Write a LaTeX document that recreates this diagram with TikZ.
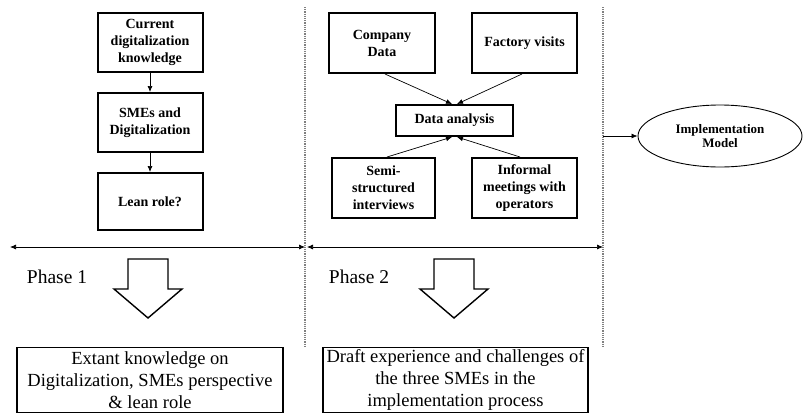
\documentclass[tikz,border=0pt]{standalone}
\usepackage{fontspec}
\setmainfont{Liberation Serif}
\usetikzlibrary{arrows.meta,shapes.geometric}

\begin{document}
\begin{tikzpicture}[x=1pt,y=-1pt,line width=0.8pt,
  box/.style={draw,line width=2pt,align=center,inner sep=2pt,
    font=\bfseries\fontsize{14}{17}\selectfont},
  outbox/.style={draw,line width=1.8pt,align=center,inner sep=2pt,
    font=\fontsize{18.5}{21.7}\selectfont},
  link/.style={-{Latex[length=6pt,width=5pt]},line width=0.7pt},
  span/.style={{Latex[length=6pt,width=5pt]}-{Latex[length=6pt,width=5pt]},line width=0.7pt},
  divider/.style={gray,densely dotted,line width=1.2pt},
  bigarrow/.style={draw,line width=1.4pt,line join=miter,fill=white}]
  \useasboundingbox (0,0) rectangle (804,413);

  % phase 1: literature
  \node[box,minimum width=105pt,minimum height=59pt] (cur) at (150,42.5)
    {Current\\digitalization\\knowledge};
  \node[box,minimum width=105pt,minimum height=59pt] (sme) at (150,122.5)
    {SMEs and\\Digitalization};
  \node[box,minimum width=105pt,minimum height=57pt] (lean) at (150,201.5)
    {Lean role?};
  \draw[link] (cur) -- (sme);
  \draw[link] (sme) -- (lean);

  % phase 2: case data
  \node[box,minimum width=106pt,minimum height=60pt] (comp) at (382,43)
    {Company\\Data};
  \node[box,minimum width=105pt,minimum height=60pt] (fact) at (524.5,43)
    {Factory visits};
  \node[box,minimum width=117pt,minimum height=31pt] (ana) at (454.5,120.5)
    {Data analysis};
  \node[box,minimum width=103pt,minimum height=60pt] (semi) at (383.5,188)
    {Semi-\\structured\\interviews};
  \node[box,minimum width=105pt,minimum height=60pt] (info) at (524.5,188)
    {Informal\\meetings with\\operators};
  \draw[link] ([xshift=3pt]comp.south) -- ([xshift=-2.5pt]ana.north);
  \draw[link] ([xshift=-2.5pt]fact.south) -- ([xshift=2.5pt]ana.north);
  \draw[link] ([xshift=3.5pt]semi.north) -- ([xshift=-2.5pt]ana.south);
  \draw[link] ([xshift=-4.5pt]info.north) -- ([xshift=2.5pt]ana.south);

  % dividers and spans
  \foreach \x/\name in {305/d1,603/d2} {
    \coordinate (\name top) at (\x,7);
    \coordinate (\name bot) at (\x,347);
    \draw[divider] (\name top) -- (\name bot);
  }
  \coordinate (s1l) at (10,247);
  \coordinate (s1r) at (305,247);
  \coordinate (s2l) at (307,247);
  \coordinate (s2r) at (603,247);
  \draw[span] (s1l) -- (s1r);
  \draw[span] (s2l) -- (s2r);

  \node[ellipse,draw,line width=0.9pt,minimum width=164pt,minimum height=62pt,
    align=center,font=\bfseries\fontsize{13}{14}\selectfont] (model) at (720,136)
    {Implementation\\Model};
  \coordinate (exit) at (603,136);
  \draw[link] (exit) -- (model.west);

  \node[font=\fontsize{19.5}{22}\selectfont] (ph1) at (57,277) {Phase 1};
  \node[font=\fontsize{19.5}{22}\selectfont] (ph2) at (359,277) {Phase 2};

  \foreach \cx in {148,454}
    \draw[bigarrow] (\cx-20,259) -- (\cx+20,259) -- (\cx+20,289) -- (\cx+34,289)
      -- (\cx,318) -- (\cx-34,289) -- (\cx-20,289) -- cycle;

  % outcomes
  \node[outbox,minimum width=266pt,minimum height=65pt] (res1) at (150,380)
    {Extant knowledge on\\Digitalization, SMEs perspective\\\& lean role};
  \node[outbox,minimum width=265pt,minimum height=65pt] (res2) at (455.5,380)
    {Draft experience and challenges of\\the three SMEs in the\\implementation process};
\end{tikzpicture}
\end{document}
